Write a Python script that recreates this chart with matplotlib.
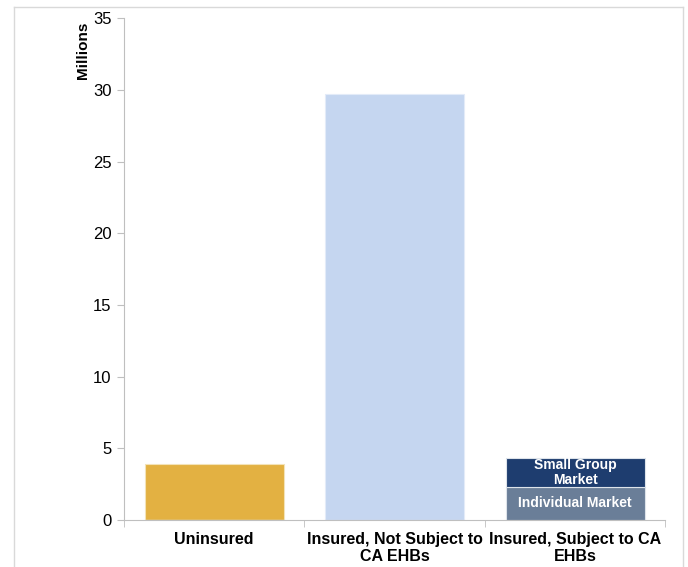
import matplotlib.pyplot as plt
from matplotlib.lines import Line2D
import numpy as np

plt.rcParams['font.family'] = ['Liberation Sans', 'DejaVu Sans']

categories = ["Uninsured", "Insured, Not Subject to\nCA EHBs", "Insured, Subject to CA\nEHBs"]
uninsured = [3.9, 0, 0]
not_subject = [0, 29.7, 0]
individual = [0, 0, 2.3]
small_group = [0, 0, 2.0]

x = np.arange(len(categories))
width = 0.77

fig = plt.figure(figsize=(6.88, 5.67), dpi=100)
ax = fig.add_axes([0.180, 0.083, 0.787, 0.885])

ax.bar(x, uninsured, width, color="#E3B142", edgecolor="#F3E3B8", linewidth=0.8)
ax.bar(x, not_subject, width, color="#C5D6F0", edgecolor="#E3EBF8", linewidth=0.8)
ax.bar(x, individual, width, color="#6A7E98", edgecolor="#DDE3EA", linewidth=0.8)
ax.bar(x, small_group, width, bottom=individual, color="#1E3D6F", edgecolor="#DDE3EA", linewidth=0.8)

ax.text(x[2], individual[2] / 2, "Individual Market", color="white", fontsize=10,
        fontweight="bold", ha="center", va="center")
ax.text(x[2], individual[2] + small_group[2] / 2, "Small Group\nMarket", color="white",
        fontsize=10, fontweight="bold", ha="center", va="center", linespacing=1.05)

ax.set_xlim(-0.5, 2.5)
ax.set_ylim(0, 35)
ax.set_yticks(range(0, 36, 5))
ax.set_xticks(x)
ax.set_xticklabels(categories, fontsize=11.5, fontweight="bold", linespacing=1.1)
ax.set_xticks([-0.5, 0.5, 1.5, 2.5], minor=True)
ax.tick_params(axis="x", which="major", length=0, pad=9)
ax.tick_params(axis="x", which="minor", length=5, color="#BFBFBF")
ax.tick_params(axis="y", length=5, color="#BFBFBF", labelsize=12, pad=4)

for s in ["top", "right"]:
    ax.spines[s].set_visible(False)
for s in ["left", "bottom"]:
    ax.spines[s].set_color("#BFBFBF")

ax.set_ylabel("Millions", fontsize=11, fontweight="bold")
ax.yaxis.set_label_coords(-0.062, 0.936)

# outer frame, open at the bottom
fc = "#D9D9D9"
fig.add_artist(Line2D([0.021, 0.021], [0, 0.988], color=fc, lw=1))
fig.add_artist(Line2D([0.021, 0.993], [0.988, 0.988], color=fc, lw=1))
fig.add_artist(Line2D([0.993, 0.993], [0, 0.988], color=fc, lw=1))

fig.savefig("out.png", dpi=100)
